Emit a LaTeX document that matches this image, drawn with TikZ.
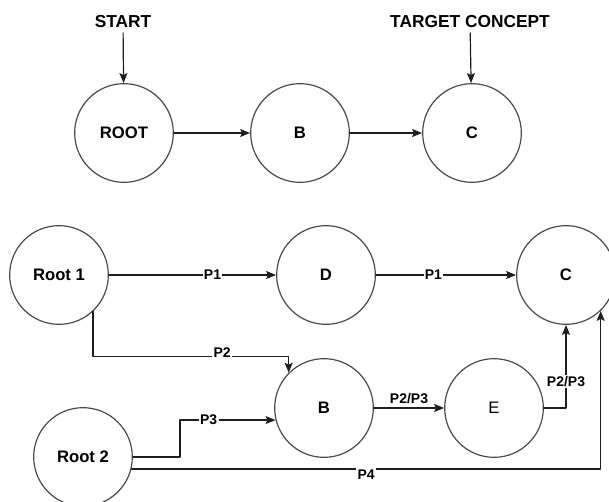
\documentclass[tikz,border=0pt]{standalone}
\usepackage{fontspec}
\setmainfont{Liberation Sans}
\usepackage{tikz}
\usetikzlibrary{arrows.meta, positioning, calc}
\definecolor{ringgray}{HTML}{4A4A4A}
\definecolor{linkblack}{HTML}{1E1E1E}

\begin{document}
\begin{tikzpicture}[x=0.75pt, y=-0.75pt, line cap=round, line join=round,
    concept/.style={circle, draw=ringgray, line width=0.9pt, minimum size=74pt, inner sep=0pt,
                    font=\fontsize{12.5}{14}\selectfont\bfseries},
    tag/.style={font=\fontsize{13}{15}\selectfont\bfseries},
    link/.style={draw=linkblack, line width=0.9pt, -{Stealth[length=7.5pt, width=6pt, inset=1.5pt]}},
    plabel/.style={fill=white, inner sep=1pt, font=\fontsize{10.5}{12}\selectfont\bfseries}]
      \useasboundingbox (0,0) rectangle (609,502);

      % Camino simple
      \node[tag] (start) at (123,22) {START};
      \node[tag] (target) at (470,22) {TARGET CONCEPT};
      \node[concept] (root) at (124,133) {ROOT};
      \node[concept] (b) at (300,133) {B};
      \node[concept] (c) at (472,133) {C};

      \draw[link] (start) -- (root);
      \draw[link] (target) -- (c);
      \draw[link] (root) -- (b);
      \draw[link] (b) -- (c);

      % Varios caminos
      \node[concept] (root1) at (59,275) {Root 1};
      \node[concept] (d) at (326,275) {D};
      \node[concept] (c2) at (566,275) {C};
      \node[concept] (b2) at (324,408) {B};
      \node[concept, font=\fontsize{12.5}{14}\selectfont] (e) at (494,408) {E};
      \node[concept] (root2) at (83,457) {Root 2};

      \draw[link] (root1) -- node[plabel, pos=.62] {P1} (d);
      \draw[link] (d) -- node[plabel, pos=.41] {P1} (c2);
      \draw[link] (root1.-47) |- node[plabel, pos=.83, yshift=3pt] {P2} ([yshift=12pt]b2.135) -- (b2.135);
      \draw[link] (root2.east) -- ++(47,0) |- node[plabel, pos=.65] {P3} (b2.194);
      \draw[link] (b2) -- node[plabel, above=2pt] {P2/P3} (e);
      \draw[link] (e.east) -| node[plabel, pos=.66] {P2/P3} (c2.south);
      \draw[link] (root2.-14) -| node[plabel, pos=.25, yshift=-4pt] {P4} (c2.-46);
    \end{tikzpicture}
\end{document}
